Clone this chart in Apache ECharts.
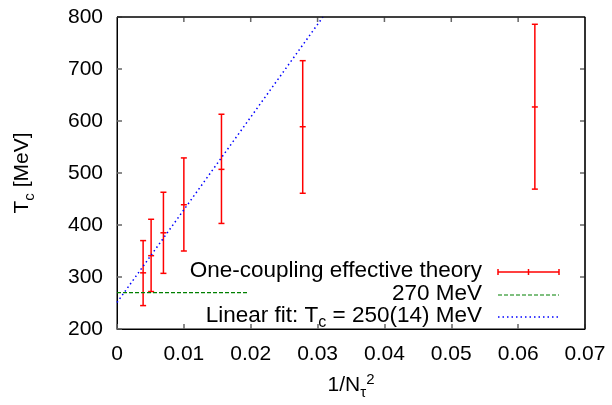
<!DOCTYPE html>
<html><head><meta charset="utf-8">
<script src="https://cdn.jsdelivr.net/npm/echarts@6/dist/echarts.min.js"></script>
<style>html,body{margin:0;padding:0;background:#fff}#c{width:612px;height:405px}</style>
</head><body><div id="c"></div>
<script>
// 1/N_tau^2 positions
const xVals = [1/256, 1/196, 1/144, 1/100, 1/64, 1/36, 1/16];
const tcCenter = [308, 341, 385, 439, 507, 589, 627];
const tcLow    = [245, 272, 307, 350, 403, 461, 469];
const tcHigh   = [370, 411, 463, 529, 613, 716, 786];
const const270 = [[0, 270], [0.0196, 270]];
const linearFit = [[0, 251], [0.0308, 800]];
const xTicks = [0, 0.01, 0.02, 0.03, 0.04, 0.05, 0.06, 0.07];
const yTicks = [200, 300, 400, 500, 600, 700, 800];

const FONT = 'Liberation Sans, Arial, Helvetica, sans-serif';
const FS = 21;
const LFS = 22.5;
const X0 = xTicks[0], X1 = xTicks[xTicks.length - 1];
const Y0 = yTicks[0], Y1 = yTicks[yTicks.length - 1];
const errData = xVals.map((x, i) => [x, tcCenter[i], tcLow[i], tcHigh[i]]);
const frameData = [[X0, Y1], [X1, Y1], [X1, Y0]];

const chart = echarts.init(document.getElementById('c'), null, {renderer: 'canvas'});

function mirrorTicks(params, api) {
  const kids = [];
  xTicks.slice(1, -1).forEach(v => {
    const p = api.coord([v, Y1]);
    kids.push({type: 'line', shape: {x1: p[0], y1: p[1], x2: p[0], y2: p[1] + 5},
      style: {stroke: '#666', lineWidth: 1.5}});
  });
  yTicks.slice(1, -1).forEach(v => {
    const p = api.coord([X1, v]);
    kids.push({type: 'line', shape: {x1: p[0], y1: p[1], x2: p[0] - 5, y2: p[1]},
      style: {stroke: '#666', lineWidth: 1.5}});
  });
  return {type: 'group', children: kids};
}

chart.setOption({
  animation: false,
  grid: {left: 117, right: 27, top: 17, bottom: 71, show: true, borderColor: '#000', borderWidth: 1},
  xAxis: {type: 'value', min: X0, max: X1, interval: 0.01, position: 'bottom',
    axisLine: {show: true, onZero: false, lineStyle: {color: '#000', width: 1}},
    axisTick: {show: true, inside: true, length: 5, lineStyle: {color: '#666', width: 1.5}},
    splitLine: {show: false},
    axisLabel: {color: '#000', fontFamily: FONT, fontSize: FS, margin: 15,
      formatter: v => v === 0 ? '0' : v.toFixed(2)},
    name: '1/N{s|τ}{p|2}', nameLocation: 'middle', nameGap: 42,
    nameTextStyle: {color: '#000', fontFamily: FONT, fontSize: FS,
      rich: {s: {fontSize: 15, fontFamily: FONT, padding: [14, 0, 0, 0]},
             p: {fontSize: 15, fontFamily: FONT, padding: [0, 0, 12, 0]}}}
  },
  yAxis: {type: 'value', min: Y0, max: Y1, interval: 100, position: 'left',
    axisLine: {show: true, onZero: false, lineStyle: {color: '#000', width: 1}},
    axisTick: {show: true, inside: true, length: 5, lineStyle: {color: '#666', width: 1.5}},
    splitLine: {show: false},
    axisLabel: {color: '#000', fontFamily: FONT, fontSize: FS, margin: 14},
    name: 'T{s|c} [MeV]', nameLocation: 'middle', nameGap: 80, nameRotate: 90,
    nameTextStyle: {color: '#000', fontFamily: FONT, fontSize: FS,
      rich: {s: {fontSize: 15, fontFamily: FONT, padding: [14, 0, 0, 0]}}}
  },
  series: [
    {
      type: 'line', name: 'frame', data: frameData, symbol: 'none', clip: false, silent: true,
      lineStyle: {color: '#000', width: 1.2}, z: 5
    },
    {
      type: 'custom', name: 'mirror ticks', data: [[X1, Y1]], clip: false, silent: true, z: 5,
      renderItem: mirrorTicks
    },
    {
      type: 'custom', name: 'One-coupling effective theory',
      data: errData, clip: false,
      renderItem: function (params, api) {
        const x = api.value(0);
        const c = api.coord([x, api.value(1)]);
        const lo = api.coord([x, api.value(2)]);
        const hi = api.coord([x, api.value(3)]);
        const w = 3;
        const st = {stroke: '#ff0000', lineWidth: 1.5};
        return {type: 'group', children: [
          {type: 'line', shape: {x1: lo[0], y1: lo[1], x2: hi[0], y2: hi[1]}, style: st},
          {type: 'line', shape: {x1: lo[0]-w, y1: lo[1], x2: lo[0]+w, y2: lo[1]}, style: st},
          {type: 'line', shape: {x1: hi[0]-w, y1: hi[1], x2: hi[0]+w, y2: hi[1]}, style: st},
          {type: 'line', shape: {x1: c[0]-w, y1: c[1], x2: c[0]+w, y2: c[1]}, style: st}
        ]};
      }
    },
    {
      type: 'line', name: '270 MeV', data: const270, symbol: 'none',
      lineStyle: {color: '#008000', width: 1.2, type: [4, 2]}
    },
    {
      type: 'line', name: 'Linear fit', data: linearFit, symbol: 'none',
      lineStyle: {color: '#0000ff', width: 1.5, type: [1.5, 3]}
    }
  ],
  graphic: {elements: [
    {type: 'text', right: 612 - 482, top: 272 - 13, style: {text: 'One-coupling effective theory',
      font: LFS + 'px ' + FONT, fill: '#000', textAlign: 'right'}},
    {type: 'text', right: 612 - 482, top: 295 - 13, style: {text: '270 MeV',
      font: LFS + 'px ' + FONT, fill: '#000', textAlign: 'right'}},
    {type: 'text', right: 612 - 482, top: 317 - 13, style: {
      text: 'Linear fit: T{s|c} = 250(14) MeV', font: LFS + 'px ' + FONT, fill: '#000',
      rich: {s: {fontSize: 16, fontFamily: FONT, padding: [14, 0, 0, 0]}}}},
    {type: 'line', shape: {x1: 498, y1: 272, x2: 559, y2: 272}, style: {stroke: '#ff0000', lineWidth: 1.5}},
    {type: 'line', shape: {x1: 498, y1: 269, x2: 498, y2: 275}, style: {stroke: '#ff0000', lineWidth: 1.5}},
    {type: 'line', shape: {x1: 528.5, y1: 269, x2: 528.5, y2: 275}, style: {stroke: '#ff0000', lineWidth: 1.5}},
    {type: 'line', shape: {x1: 559, y1: 269, x2: 559, y2: 275}, style: {stroke: '#ff0000', lineWidth: 1.5}},
    {type: 'line', shape: {x1: 498, y1: 295, x2: 559, y2: 295}, style: {stroke: '#008000', lineWidth: 1.2, lineDash: [4, 2]}},
    {type: 'line', shape: {x1: 498, y1: 317, x2: 559, y2: 317}, style: {stroke: '#0000ff', lineWidth: 1.5, lineDash: [1.5, 3]}}
  ]}
});
</script>
</body></html>
